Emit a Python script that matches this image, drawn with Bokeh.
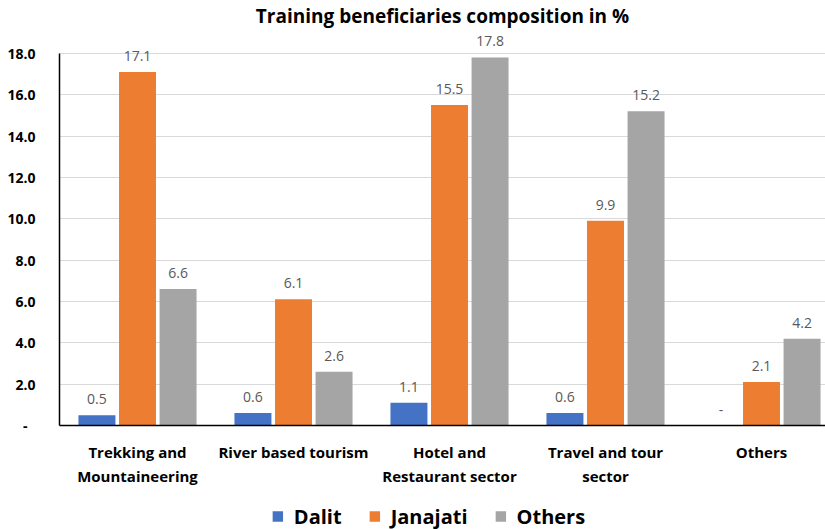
from bokeh.plotting import figure
from bokeh.models import (ColumnDataSource, Range1d, FixedTicker, Legend, LegendItem)
from bokeh.layouts import column
from bokeh.transform import dodge
from bokeh.core.properties import value
from bokeh.embed import file_html
from bokeh.resources import INLINE

# ---- data ----
categories = ["Trekking and\nMountaineering", "River based tourism",
              "Hotel and\nRestaurant sector", "Travel and tour\nsector", "Others"]
dalit = [0.5, 0.6, 1.1, 0.6, 0.0]
janajati = [17.1, 6.1, 15.5, 9.9, 2.1]
others = [6.6, 2.6, 17.8, 15.2, 4.2]
series_names = ["Dalit", "Janajati", "Others"]
colors = ["#4472C4", "#ED7D31", "#A5A5A5"]
y_ticks = [0, 2, 4, 6, 8, 10, 12, 14, 16, 18]
y_tick_labels = ["-\u2007", "2.0", "4.0", "6.0", "8.0", "10.0", "12.0", "14.0", "16.0", "18.0"]
title_text = "Training beneficiaries composition in %"

FONT = "Open Sans"

def fmt(v):
    return f"{v:.1f}" if v else "-"

xs = list(range(len(categories)))
src = ColumnDataSource(dict(
    x=xs,
    dalit=dalit, janajati=janajati, others=others,
    dalit_l=[fmt(v) for v in dalit],
    janajati_l=[fmt(v) for v in janajati],
    others_l=[fmt(v) for v in others],
))

p = figure(frame_width=766, frame_height=397, output_backend="svg", toolbar_location=None,
           x_range=Range1d(-0.5, -0.5 + 766 / 156), y_range=Range1d(0, 19.2),
           min_border_left=59, min_border_right=0, min_border_top=0, min_border_bottom=0)
p.outline_line_color = None
p.background_fill_color = "white"

p.title.text = title_text
p.title.align = "center"
p.title.text_font = FONT
p.title.text_font_size = "19px"
p.title.text_font_style = "bold"
p.title.text_color = "black"
p.title.offset = 0
p.title.standoff = 0

offsets = [-0.26, 0.0, 0.26]
fields = ["dalit", "janajati", "others"]
for f, off, c in zip(fields, offsets, colors):
    p.vbar(x=dodge("x", off, range=p.x_range), top=f, width=0.237, source=src,
           fill_color=c, line_color=None)
    p.text(x=dodge("x", off, range=p.x_range), y=f, text=f + "_l", source=src,
           text_align="center", text_baseline="bottom", y_offset=-11,
           text_font=value(FONT), text_font_size="14px", text_color="#595959")

# axes
p.xaxis.ticker = FixedTicker(ticks=xs)
p.xaxis.major_label_overrides = {i: c for i, c in zip(xs, categories)}
p.xaxis.major_tick_line_color = None
p.xaxis.minor_tick_line_color = None
p.xaxis.axis_line_color = "black"
p.xaxis.axis_line_width = 1.5
p.xaxis.major_label_text_font = FONT
p.xaxis.major_label_text_font_style = "bold"
p.xaxis.major_label_text_font_size = "15px"
p.xaxis.major_label_text_color = "black"
p.xaxis.major_label_text_line_height = 1.2
p.xaxis.major_label_standoff = 10

p.yaxis.ticker = FixedTicker(ticks=y_ticks)
p.yaxis.major_label_overrides = {t: l for t, l in zip(y_ticks, y_tick_labels)}
p.yaxis.bounds = (0, 18)
p.yaxis.major_tick_line_color = None
p.yaxis.minor_tick_line_color = None
p.yaxis.axis_line_color = "black"
p.yaxis.axis_line_width = 1.5
p.yaxis.major_label_text_font = FONT
p.yaxis.major_label_text_font_style = "bold"
p.yaxis.major_label_text_font_size = "14px"
p.yaxis.major_label_text_color = "black"
p.yaxis.major_label_standoff = 18

p.xgrid.visible = False
p.ygrid.ticker = FixedTicker(ticks=y_ticks)
p.ygrid.grid_line_color = "#D9D9D9"
p.ygrid.grid_line_width = 1

# ---- legend strip below the chart ----
lg = figure(width=825, height=42, output_backend="svg", toolbar_location=None,
            x_range=Range1d(-0.5, 4.5), y_range=Range1d(1000, 2000),
            min_border_left=0, min_border_right=28, min_border_top=14, min_border_bottom=0)
lg.outline_line_color = None
lg.axis.visible = False
lg.grid.visible = False
# same series in the strip (entirely outside its visible range) to give the legend its swatches
leg_renderers = [lg.vbar(x="x", top=f, width=0.2, source=src, fill_color=c, line_color=None)
                 for f, c in zip(fields, colors)]
legend = Legend(items=[LegendItem(label=n, renderers=[r]) for n, r in zip(series_names, leg_renderers)],
                orientation="horizontal", location="center")
legend.label_text_font = FONT
legend.label_text_font_style = "bold"
legend.label_text_font_size = "20px"
legend.label_text_color = "black"
legend.label_height = 20
legend.glyph_width = 13
legend.glyph_height = 13
legend.label_standoff = 10
legend.spacing = 26
legend.border_line_color = None
legend.background_fill_alpha = 0
legend.margin = 0
legend.padding = 2
lg.add_layout(legend, "center")

layout = column(p, lg, spacing=0)
open("out.html", "w").write(file_html(layout, INLINE))
